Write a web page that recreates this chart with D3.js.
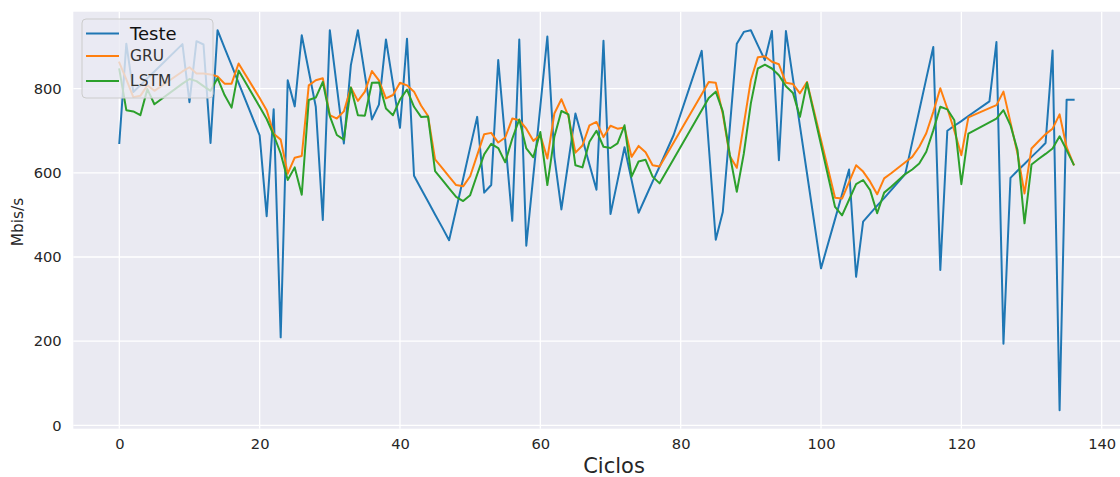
<!DOCTYPE html>
<html>
<head>
<meta charset="utf-8">
<script src="https://cdn.jsdelivr.net/npm/d3@7"></script>
<style>
  html, body { margin: 0; padding: 0; background: #ffffff; }
  svg { display: block; font-family: "DejaVu Sans", sans-serif; }
</style>
</head>
<body>
<svg id="chart" width="1120" height="477"></svg>
<script>
// ---- data ----
const ciclos = [0,1,2,3,4,5,9,10,11,12,13,14,15,16,17,20,21,22,23,24,25,26,27,28,29,30,31,32,33,34,35,36,37,38,39,40,41,42,43,44,45,46,47,48,49,50,51,52,53,54,55,56,57,58,59,60,61,62,63,64,65,66,67,68,69,70,71,72,73,74,75,76,77,79,83,84,85,86,87,88,89,90,91,92,93,94,95,96,97,98,100,102,103,104,105,106,107,108,109,110,112,113,114,115,116,117,118,119,120,121,124,125,126,127,128,129,130,131,132,133,134,135,136];

const teste = [671,907,792,808,825,841,906,768,913,905,671,939,897,856,814,689,497,751,209,820,758,927,842,757,488,939,805,670,856,939,833,727,762,917,812,707,919,593,562,532,501,471,440,513,586,660,733,553,571,868,677,486,917,427,593,758,924,638,513,627,741,681,620,560,914,502,581,661,583,505,542,579,615,690,890,665,441,507,707,907,935,939,903,868,937,630,937,824,711,599,373,490,549,608,353,484,503,522,540,559,597,673,748,824,899,369,700,712,723,735,770,911,194,588,605,621,638,654,671,891,36,774,774];

const gru = [862,822,780,783,808,795,841,851,836,836,834,829,812,812,860,778,749,693,679,598,636,640,808,820,825,737,729,746,803,771,793,842,820,777,785,814,808,793,760,735,632,612,591,571,568,592,642,692,695,672,684,729,725,705,676,690,634,741,775,735,648,665,713,721,685,712,705,708,638,664,649,618,615,672,787,816,814,740,640,612,716,820,875,877,864,858,814,811,789,816,678,541,539,578,618,603,579,549,587,599,625,638,662,694,745,801,753,700,642,732,754,761,793,720,646,551,658,675,692,705,739,661,620];

const lstm = [846,749,746,737,799,763,812,823,818,806,795,825,785,755,843,757,728,690,646,583,613,548,773,779,816,735,690,679,803,737,736,814,815,753,737,774,798,757,733,734,604,584,563,543,533,547,596,644,669,659,625,681,727,658,637,697,571,686,747,739,618,613,674,700,662,659,670,713,591,627,631,591,575,633,749,778,793,746,643,555,646,765,848,857,848,832,806,790,733,814,667,519,499,536,573,583,559,504,553,567,597,608,622,650,701,757,751,725,573,693,720,729,749,713,654,480,620,633,645,658,687,654,620];

const xTicks = [0,20,40,60,80,100,120,140];
const yTicks = [0,200,400,600,800];
const seriesNames = ["Teste","GRU","LSTM"];
const seriesColors = ["#1f77b4","#ff7f0e","#2ca02c"];

// ---- layout ----
const svg = d3.select("#chart");
const plot = { left: 73.3, right: 1121, top: 11.7, bottom: 428.7 };

const x = d3.scaleLinear().domain([0, 140]).range([119.3, 1101.7]);
const y = d3.scaleLinear().domain([0, 800]).range([425.3, 88.7]);

// background
svg.append("rect")
  .attr("x", plot.left).attr("y", plot.top)
  .attr("width", plot.right - plot.left).attr("height", plot.bottom - plot.top)
  .attr("fill", "#eaeaf2");

// grid
const grid = svg.append("g");
grid.selectAll("line.gx").data(xTicks).enter().append("line")
  .attr("x1", d => x(d)).attr("x2", d => x(d))
  .attr("y1", plot.top).attr("y2", plot.bottom)
  .attr("stroke", "#ffffff").attr("stroke-width", 1.3);
grid.selectAll("line.gy").data(yTicks).enter().append("line")
  .attr("x1", plot.left).attr("x2", plot.right)
  .attr("y1", d => y(d)).attr("y2", d => y(d))
  .attr("stroke", "#ffffff").attr("stroke-width", 1.3);

// axes (labels only, seaborn style)
const xAxis = d3.axisBottom(x).tickValues(xTicks).tickSize(0).tickPadding(10);
const gx = svg.append("g").attr("transform", `translate(0,${plot.bottom})`).call(xAxis);
gx.select(".domain").remove();
gx.selectAll("text").attr("font-size", "14.7px").attr("fill", "#262626")
  .attr("font-family", "DejaVu Sans, sans-serif");

const yAxis = d3.axisLeft(y).tickValues(yTicks).tickSize(0).tickPadding(11.6);
const gy = svg.append("g").attr("transform", `translate(${plot.left},0)`).call(yAxis);
gy.select(".domain").remove();
gy.selectAll("text").attr("font-size", "14.7px").attr("fill", "#262626")
  .attr("font-family", "DejaVu Sans, sans-serif");

// axis titles
svg.append("text")
  .attr("x", 614).attr("y", 473)
  .attr("text-anchor", "middle")
  .attr("font-size", "21px").attr("fill", "#262626")
  .text("Ciclos");
svg.append("text")
  .attr("transform", "translate(18,222) rotate(-90)")
  .attr("text-anchor", "middle").attr("dominant-baseline", "central")
  .attr("font-size", "15.3px").attr("fill", "#262626")
  .text("Mbis/s");

// lines
const allSeries = [teste, gru, lstm];
const line = d3.line().x(d => x(d[0])).y(d => y(d[1]));
const clip = svg.append("clipPath").attr("id", "clip").append("rect")
  .attr("x", plot.left).attr("y", plot.top)
  .attr("width", plot.right - plot.left).attr("height", plot.bottom - plot.top);
const lines = svg.append("g").attr("clip-path", "url(#clip)");
allSeries.forEach((vals, k) => {
  lines.append("path")
    .datum(ciclos.map((c, i) => [c, vals[i]]))
    .attr("d", line)
    .attr("fill", "none")
    .attr("stroke", seriesColors[k])
    .attr("stroke-width", 2)
    .attr("stroke-linejoin", "round")
    .attr("stroke-linecap", "square");
});

// legend
const lg = svg.append("g");
lg.append("rect")
  .attr("x", 82).attr("y", 19).attr("width", 131).attr("height", 79)
  .attr("rx", 4).attr("ry", 4)
  .attr("fill", "#eaeaf2").attr("fill-opacity", 0.8)
  .attr("stroke", "#cccccc").attr("stroke-width", 1);
const legendY = [33.5, 56, 81];
const legendSize = [18, 15.5, 15.5];
const legendText = ["#111111", "#333333", "#333333"];
seriesNames.forEach((name, k) => {
  lg.append("line")
    .attr("x1", 86).attr("x2", 119)
    .attr("y1", legendY[k]).attr("y2", legendY[k])
    .attr("stroke", seriesColors[k]).attr("stroke-width", 2);
  lg.append("text")
    .attr("x", 130).attr("y", legendY[k])
    .attr("dominant-baseline", "central")
    .attr("font-size", legendSize[k] + "px")
    .attr("fill", legendText[k])
    .text(name);
});
</script>
</body>
</html>
